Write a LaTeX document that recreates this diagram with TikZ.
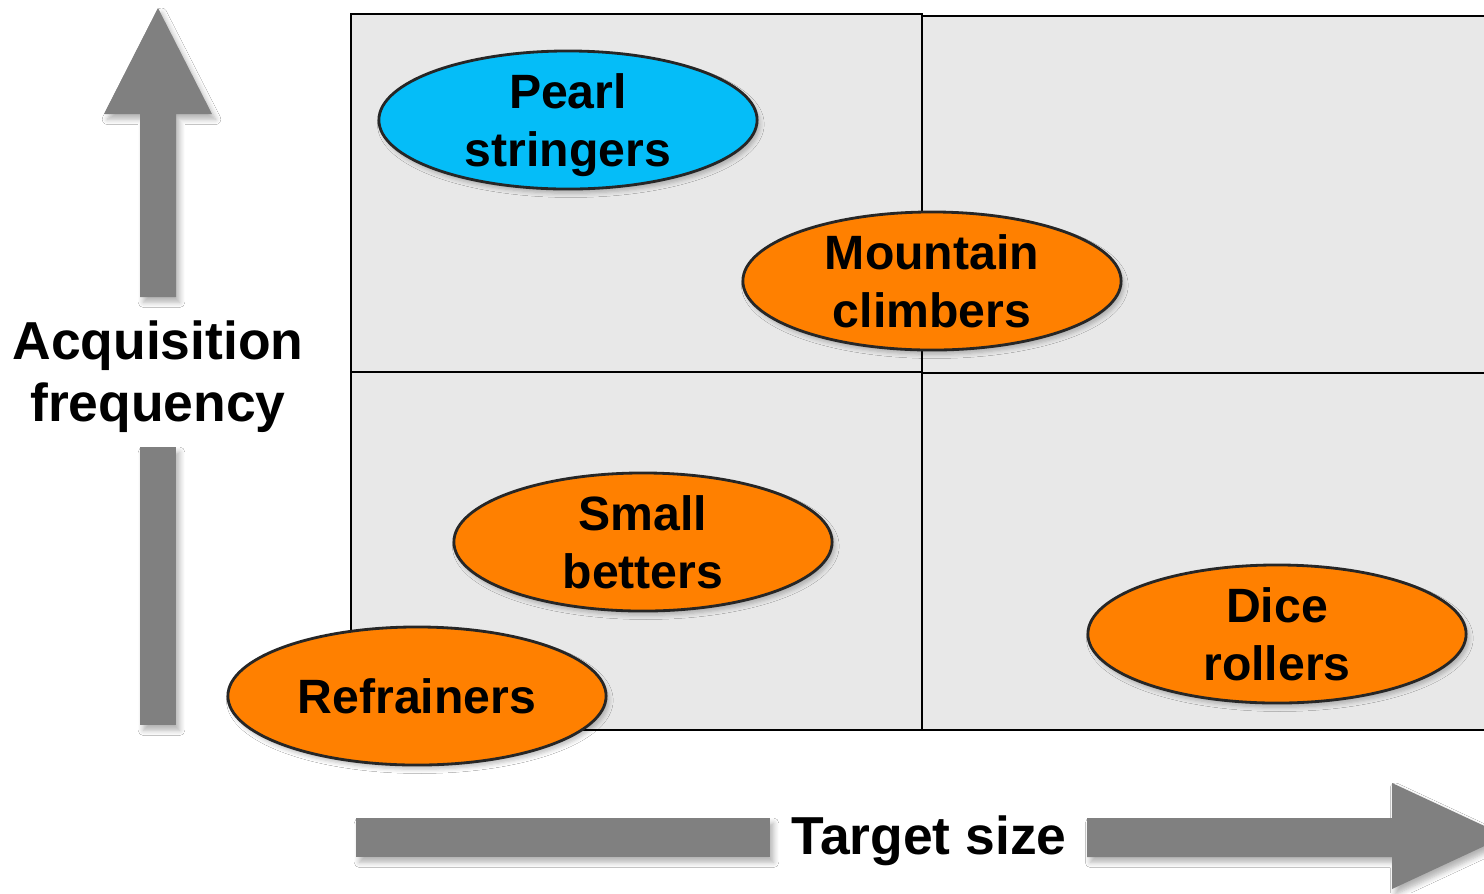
\documentclass[tikz,border=0pt]{standalone}
\usepackage{fontspec}
\setmainfont{Liberation Sans}
\usetikzlibrary{shapes.geometric,shadows.blur}
\definecolor{cellgray}{HTML}{E8E8E8}
\definecolor{arrowgray}{HTML}{808080}
\definecolor{pearlblue}{HTML}{05BDF8}
\definecolor{oval}{HTML}{FF8000}
\tikzset{
  cell/.style={fill=cellgray, draw=black, line width=0.6pt},
  bigarrow/.style={fill=arrowgray, draw=none, blur shadow={shadow xshift=1pt, shadow yshift=-1.5pt, shadow blur steps=6, shadow blur radius=1.5pt, shadow opacity=30}},
  bubble/.style={ellipse, draw=black!85, line width=0.8pt, minimum width=3.78cm, minimum height=1.38cm, inner sep=0pt,
    align=center, text depth=0pt, font=\fontsize{13.7}{16.5}\selectfont\bfseries,
    blur shadow={shadow xshift=0.8pt, shadow yshift=-1.2pt, shadow blur steps=4, shadow blur radius=1.2pt, shadow opacity=25}},
  axislabel/.style={align=center, font=\fontsize{15.2}{17.6}\selectfont\bfseries, inner sep=0pt}
}
\begin{document}
\begin{tikzpicture}[x=0.01cm, y=-0.01cm]
\useasboundingbox (0,0) rectangle (1484,893);
\clip (0,0) rectangle (1484,893);
\fill[white] (0,0) rectangle (1484,893);
% quadrants
\draw[cell] (351,14) rectangle (922,372);
\draw[cell] (922,16) rectangle (1500,373);
\draw[cell] (351,372) rectangle (922,730);
\draw[cell] (922,373) rectangle (1500,730);
% vertical arrow
\fill[bigarrow] (104,114) -- (158,8) -- (212,114) -- (176,114) -- (176,297) -- (140,297) -- (140,114) -- cycle;
\fill[bigarrow] (140,447) rectangle (176,725);
\node[axislabel] (yl) at (158,377) {Acquisition\\frequency};
% horizontal arrow
\fill[bigarrow] (356,818) rectangle (770,857);
\fill[bigarrow] (1087,818) -- (1392,818) -- (1392,783) -- (1506,836) -- (1392,889) -- (1392,857) -- (1087,857) -- cycle;
\node[axislabel] (xl) at (929,841) {Target size};
% bubbles
\node[bubble, fill=pearlblue] (pearl) at (568,120) {Pearl\\stringers};
\node[bubble, fill=oval] (mountain) at (932,281) {Mountain\\climbers};
\node[bubble, fill=oval] (small) at (643,542) {Small\\betters};
\node[bubble, fill=oval] (refr) at (417,696) {Refrainers};
\node[bubble, fill=oval] (dice) at (1277,634) {Dice\\rollers};
\end{tikzpicture}
\end{document}
